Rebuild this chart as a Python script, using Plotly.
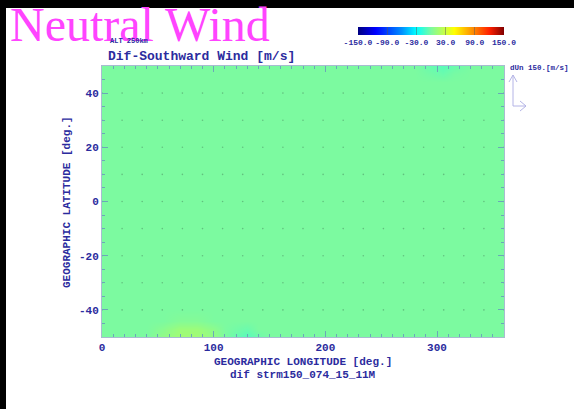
import plotly.graph_objects as go

# ---------------- data ----------------
lons = [0, 40, 55, 70, 85, 100, 110, 120, 130, 140, 150, 280, 295, 305, 315, 330, 360]
lats = [-50, -47, -44, -40, 44, 47, 50]
dif_south = [
    [0, 0, 8, 14, 14, 9, 0, -5, -9, -4, 0, 0, 0, 0, 0, 0, 0],
    [0, 0, 5, 12, 12, 6, 0, -2, -4, 0, 0, 0, 0, 0, 0, 0, 0],
    [0, 0, 0, 3, 3, 0, 0, 0, 0, 0, 0, 0, 0, 0, 0, 0, 0],
    [0, 0, 0, 0, 0, 0, 0, 0, 0, 0, 0, 0, 0, 0, 0, 0, 0],
    [0, 0, 0, 0, 0, 0, 0, 0, 0, 0, 0, 0, 0, 0, 0, 0, 0],
    [0, 0, 0, 0, 0, 0, 0, 0, 0, 0, 0, 0, -2, -4, -1, 0, 0],
    [0, 0, 0, 0, 0, 0, 0, 0, 0, 0, 0, 0, -5, -8, -4, 0, 0],
]
vec_lons = [0, 18, 36, 54, 72, 90, 108, 126, 144, 162, 180, 198, 216, 234, 252,
            270, 288, 306, 324, 342, 360]
vec_lats = [-40, -30, -20, -10, 0, 10, 20, 30, 40]
x_ticks = [0, 100, 200, 300]
x_ticklabels = ["0", "100", "200", "300"]
y_ticks = [-40, -20, 0, 20, 40]
y_ticklabels = ["-40", "-20", "0", "20", "40"]
cb_ticks = [-150, -90, -30, 30, 90, 150]
cb_ticklabels = ["-150.0", "-90.0", "-30.0", "30.0", "90.0", "150.0"]

# ---------------- layout geometry ----------------
W, H = 574, 409
L, R, T, B = 102, 70, 66, 72
PW, PH = W - L - R, H - T - B


def px(x):
    return (x - L) / PW


def py(y):
    return (H - B - y) / PH


NAVY = "#2b2b9e"
MONO = "Liberation Mono, Courier New, monospace"
TICKC = "#6aa8b8"
ARROWC = "#b4b4e6"

colorscale = [
    [0.0, "#000080"],
    [0.12, "#0000ff"],
    [0.3, "#0090ff"],
    [0.4, "#00ffff"],
    [0.5, "#7cfaa0"],
    [0.6, "#ccff40"],
    [0.66, "#ffff00"],
    [0.8, "#ff8000"],
    [0.9, "#ff2000"],
    [1.0, "#800000"],
]


def bold(lst):
    return ["<b>%s</b>" % s for s in lst]


fig = go.Figure()
fig.add_trace(go.Heatmap(
    x=lons, y=lats, z=dif_south, zmin=-150, zmax=150, zsmooth="best",
    colorscale=colorscale,
    colorbar=dict(
        orientation="h", x=px(358), xanchor="left", y=py(27), yanchor="top",
        len=146 / PW, thickness=8, xpad=0, ypad=0, outlinewidth=0,
        tickvals=cb_ticks, ticktext=bold(cb_ticklabels), ticks="inside", ticklen=8,
        tickcolor="rgba(90,90,90,0.5)",
        tickfont=dict(family=MONO, size=8, color=NAVY),
    ),
    showscale=True,
))

gx, gy = [], []
for la in vec_lats:
    for lo in vec_lons:
        gx.append(lo)
        gy.append(la)
fig.add_trace(go.Scatter(x=gx, y=gy, mode="markers",
                         marker=dict(size=1.6, color="rgba(40,60,50,0.3)"),
                         showlegend=False, hoverinfo="skip", cliponaxis=True))

axis_common = dict(
    showgrid=False, zeroline=False, showline=True, linecolor="#a8bcd0",
    linewidth=1, mirror="allticks", ticks="inside", ticklen=6, tickcolor=TICKC,
    tickfont=dict(family=MONO, size=11, color=NAVY),
)
fig.update_xaxes(range=[0, 360], tickvals=x_ticks, ticktext=bold(x_ticklabels),
                 minor=dict(ticks="inside", dtick=10, ticklen=3, tickcolor=TICKC),
                 **axis_common)
fig.update_yaxes(range=[-50, 50], tickvals=y_ticks, ticktext=bold(y_ticklabels),
                 minor=dict(ticks="inside", dtick=5, ticklen=3, tickcolor=TICKC),
                 **axis_common)

shapes = [
    # black frame strips
    dict(type="rect", xref="paper", yref="paper", x0=px(0), x1=px(W), y0=py(0), y1=py(8),
         fillcolor="black", line_width=0, layer="below"),
    dict(type="rect", xref="paper", yref="paper", x0=px(0), x1=px(6), y0=py(0), y1=py(H),
         fillcolor="black", line_width=0, layer="below"),
]
arrow_lines = [
    (513, 106, 513, 75), (509, 82, 513, 75), (517, 82, 513, 75),
    (513, 106, 526, 106), (520, 101, 526, 106), (520, 111, 526, 106),
]
for x0, y0, x1, y1 in arrow_lines:
    shapes.append(dict(type="line", xref="paper", yref="paper",
                       x0=px(x0), y0=py(y0), x1=px(x1), y1=py(y1),
                       line=dict(color=ARROWC, width=1)))

annotations = [
    dict(text="Neutral Wind", x=px(9), y=py(24), xanchor="left", yanchor="middle",
         font=dict(family="Liberation Serif, Times New Roman, serif", size=48, color="#ff44ff")),
    dict(text="<b>ALT 250km</b>", x=px(109), y=py(41), xanchor="left", yanchor="middle",
         font=dict(family=MONO, size=7, color=NAVY)),
    dict(text="<b>Dif-Southward Wind [m/s]</b>", x=px(107), y=py(56), xanchor="left",
         yanchor="middle", font=dict(family=MONO, size=13, color=NAVY)),
    dict(text="<b>GEOGRAPHIC LONGITUDE [deg.]</b>", x=px(303), y=py(362), xanchor="center",
         yanchor="middle", font=dict(family=MONO, size=11, color=NAVY)),
    dict(text="<b>dif strm150_074_15_11M</b>", x=px(303), y=py(375), xanchor="center",
         yanchor="middle", font=dict(family=MONO, size=11, color=NAVY)),
    dict(text="<b>GEOGRAPHIC LATITUDE [deg.]</b>", x=px(67), y=py(202), xanchor="center",
         yanchor="middle", textangle=-90, font=dict(family=MONO, size=11, color=NAVY)),
    dict(text="<b>dUn 150.[m/s]</b>", x=px(509), y=py(68), xanchor="left",
         yanchor="middle", font=dict(family=MONO, size=7.5, color=NAVY)),
]
for a in annotations:
    a.update(xref="paper", yref="paper", showarrow=False)
    a.setdefault("borderpad", 0)

fig.update_layout(
    width=W, height=H, margin=dict(l=L, r=R, t=T, b=B, pad=0),
    paper_bgcolor="white", plot_bgcolor="#7cfaa0",
    shapes=shapes, annotations=annotations, showlegend=False,
)
fig.write_html("out.html")
